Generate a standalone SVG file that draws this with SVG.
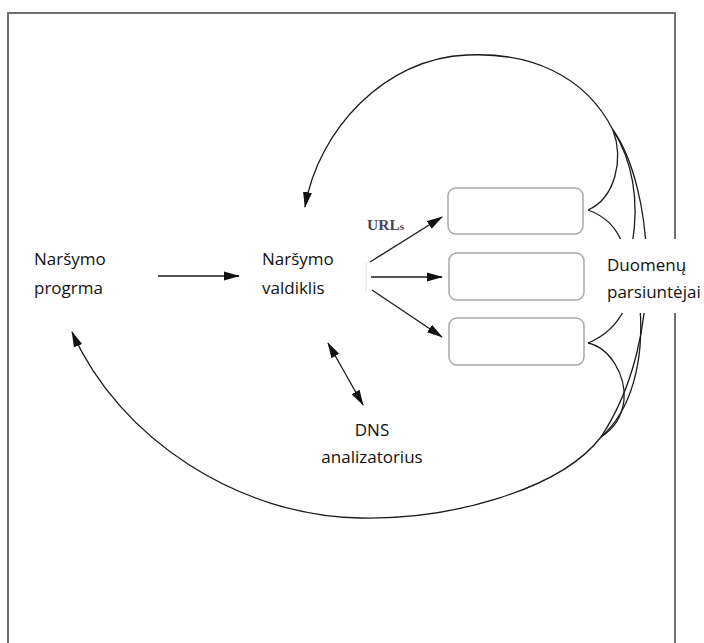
<svg xmlns="http://www.w3.org/2000/svg" width="704" height="643" viewBox="0 0 704 643">
  <style>
    .lbl { font-family: "Open Sans", "Noto Sans", "DejaVu Sans", sans-serif; font-size: 17px; fill: #111; }
    .box { fill: #fff; stroke: #a8a8a8; stroke-width: 1.5; }
    .edge { fill: none; stroke: #1a1a1a; stroke-width: 1.3; }
    .frame { fill: #fff; stroke: #707070; stroke-width: 2; }
  </style>
  <defs>
    <marker id="arrow" viewBox="0 0 16 10" refX="15" refY="5" markerWidth="16" markerHeight="10" markerUnits="userSpaceOnUse" orient="auto-start-reverse">
      <path d="M0,0.5 L16,5 L0,9.5 Z" fill="#111"/>
    </marker>
  </defs>

  <rect width="704" height="643" fill="#fff"/>
  <!-- outer frame, open at the bottom edge -->
  <rect class="frame" x="8" y="13" width="667" height="700"/>

  <!-- connectors -->
  <g id="connectors">
    <!-- program -> controller -->
    <path class="edge" d="M158,276 L239,276" marker-end="url(#arrow)"/>
    <!-- controller -> fetchers -->
    <path class="edge" d="M370,262 L442,217" marker-end="url(#arrow)"/>
    <path class="edge" d="M371,277 L442,277" marker-end="url(#arrow)"/>
    <path class="edge" d="M372,290 L442,337" marker-end="url(#arrow)"/>
    <!-- controller <-> DNS -->
    <path class="edge" d="M328,343 L363,405" marker-start="url(#arrow)" marker-end="url(#arrow)"/>
    <!-- fetchers -> controller (top loop) -->
    <path class="edge" d="M613,130 C585,75 530,52 467,55 C385,58 318,130 305,207" marker-end="url(#arrow)"/>
    <!-- fetchers -> program (bottom loop) -->
    <path class="edge" d="M601,437 C560,490 450,520 360,518 C240,516 120,440 72,332" marker-end="url(#arrow)"/>
    <!-- bundle on the right side -->
    <path class="edge" d="M613,130 C652,185 668,335 601,437"/>
    <path class="edge" d="M613,130 C632,160 640,200 632,245"/>
    <path class="edge" d="M613,130 C624,160 615,198 588,210"/>
    <path class="edge" d="M588,210 C605,216 617,228 623,245"/>
    <path class="edge" d="M640,308 C644,360 632,410 601,437"/>
    <path class="edge" d="M625,308 C617,325 605,336 588,343"/>
    <path class="edge" d="M588,343 C610,348 626,375 624,400 C622,418 612,430 601,437"/>
  </g>

  <g id="program">
    <text class="lbl" x="34" y="265">Naršymo</text>
    <text class="lbl" x="34" y="294">progrma</text>
  </g>

  <g id="controller">
    <line x1="366" y1="262" x2="366" y2="292" stroke="#e2e2e2" stroke-width="1"/>
    <text class="lbl" x="262" y="265">Naršymo</text>
    <text class="lbl" x="262" y="294">valdiklis</text>
    <text x="367" y="230" font-family="Liberation Serif, serif" font-weight="bold" font-size="15.5" fill="#444a58">URL<tspan font-size="11">s</tspan></text>
  </g>

  <g id="fetcher1"><rect class="box" x="448" y="188" width="135" height="46" rx="8"/></g>
  <g id="fetcher2"><rect class="box" x="449" y="253" width="135" height="47" rx="8"/></g>
  <g id="fetcher3"><rect class="box" x="449" y="318" width="135" height="47" rx="8"/></g>

  <g id="fetchers-label">
    <rect x="596" y="239" width="108" height="74" fill="#fff"/>
    <text class="lbl" x="607" y="271">Duomenų</text>
    <text class="lbl" x="607" y="298">parsiuntėjai</text>
  </g>

  <g id="dns">
    <text class="lbl" x="372" y="436" text-anchor="middle">DNS</text>
    <text class="lbl" x="372" y="463" text-anchor="middle">analizatorius</text>
  </g>
</svg>
